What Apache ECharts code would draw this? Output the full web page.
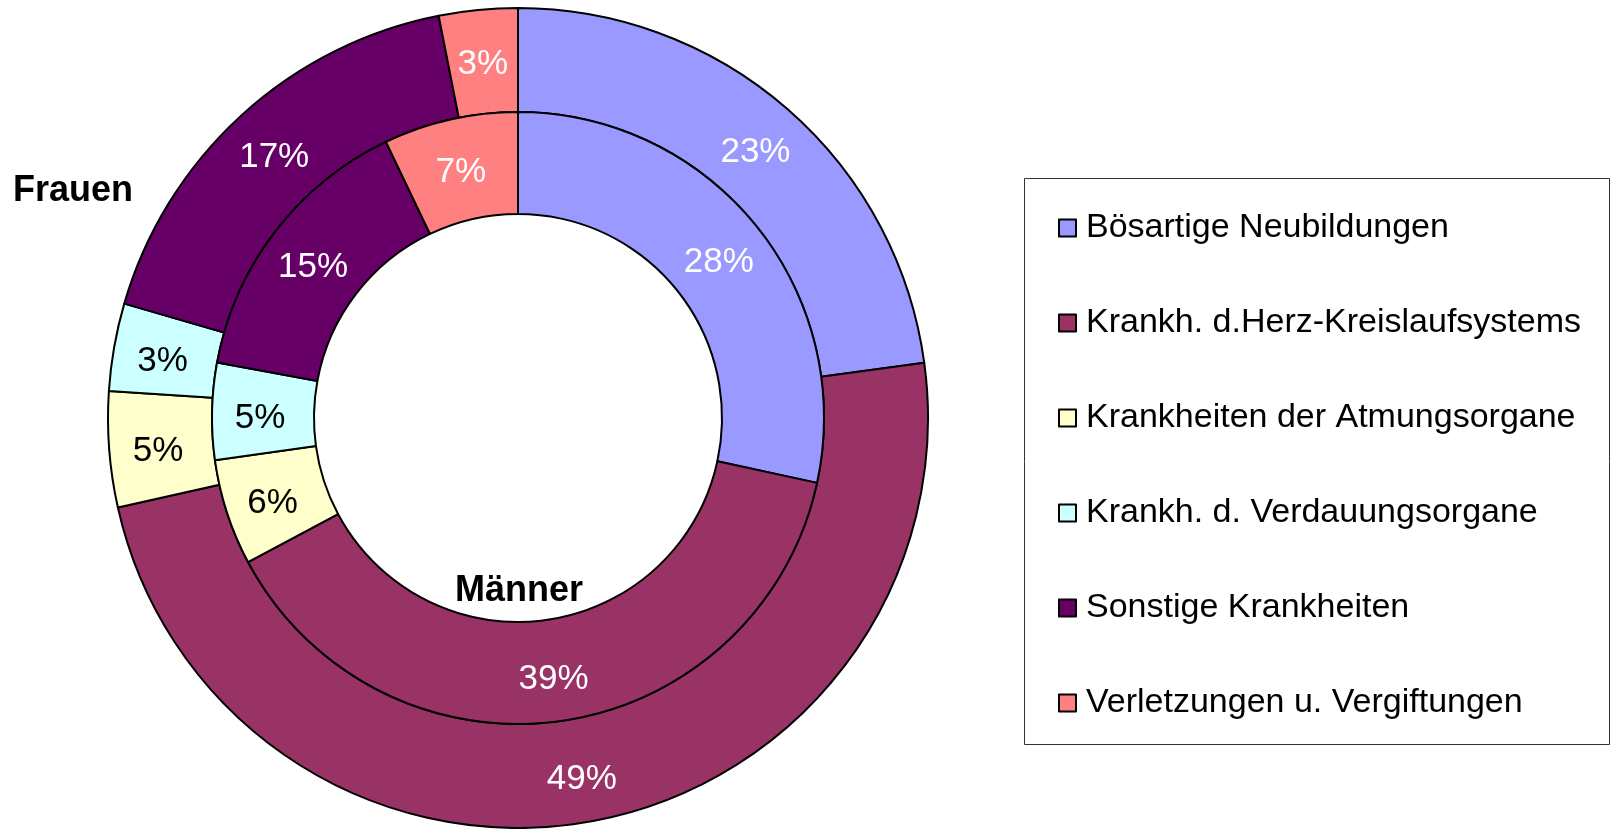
<!DOCTYPE html>
<html>
<head>
<meta charset="utf-8">
<script src="https://cdn.jsdelivr.net/npm/echarts@6/dist/echarts.min.js"></script>
<style>
  html, body { margin: 0; padding: 0; background: #fff; }
  #chart { width: 1610px; height: 829px; }
</style>
</head>
<body>
<div id="chart"></div>
<script>
// Todesursachen, Anteile in %
var categories = [
    "Bösartige Neubildungen",
    "Krankh. d.Herz-Kreislaufsystems",
    "Krankheiten der Atmungsorgane",
    "Krankh. d. Verdauungsorgane",
    "Sonstige Krankheiten",
    "Verletzungen u. Vergiftungen"
];
var frauen = [22.85, 48.65, 4.55, 3.45, 17.4, 3.1];  // äußerer Ring
var maenner = [28.4, 38.8, 5.6, 5.1, 15.0, 7.1];     // innerer Ring

var colors = ["#9999FF", "#993366", "#FFFFCC", "#CCFFFF", "#660066", "#FF8080"];
var labelColors = ["#fff", "#fff", "#000", "#000", "#fff", "#fff"];
var font = "Liberation Sans, Arial, sans-serif";

function buildData(values) {
    return categories.map(function (name, i) {
        return {
            name: name,
            value: values[i],
            label: { color: labelColors[i] }
        };
    });
}

function ring(name, values, radius) {
    return {
        name: name,
        type: "pie",
        center: [518, 418],
        radius: radius,
        startAngle: 90,
        clockwise: true,
        animation: false,
        silent: true,
        itemStyle: { borderColor: "#000", borderWidth: 2 },
        label: {
            show: true,
            position: "inside",
            fontFamily: font,
            fontSize: 35,
            // leere Zeile oben schiebt den Text etwas nach unten (wie im Original)
            formatter: function (p) { return "{s| }\n{v|" + Math.round(p.percent) + "%}"; },
            rich: {
                s: { fontSize: 8, lineHeight: 12 },
                v: { fontFamily: font, fontSize: 35, lineHeight: 36 }
            }
        },
        labelLine: { show: false },
        data: buildData(values)
    };
}

var chart = echarts.init(document.getElementById("chart"), null, { renderer: "canvas" });
chart.setOption({
    backgroundColor: "#fff",
    color: colors,
    legend: {
        orient: "vertical",
        left: 1053,
        top: 206,
        itemWidth: 17,
        itemHeight: 17,
        itemGap: 61,
        icon: "rect",
        itemStyle: { borderColor: "#000", borderWidth: 2 },
        textStyle: {
            fontFamily: font,
            fontSize: 34,
            lineHeight: 34,
            color: "#000",
            padding: [0, 0, 0, 5]
        },
        selectedMode: false,
        data: categories
    },
    graphic: [
        {
            type: "rect",
            shape: { x: 1024.5, y: 178.5, width: 585, height: 566 },
            style: { fill: "none", stroke: "#333", lineWidth: 1 },
            z: -1
        },
        {
            type: "text",
            left: 13,
            top: 173,
            style: { text: "Frauen", font: "bold 36px " + font, fill: "#000" }
        },
        {
            type: "text",
            left: 455,
            top: 573,
            style: { text: "Männer", font: "bold 36px " + font, fill: "#000" }
        }
    ],
    series: [
        ring("Frauen", frauen, [306, 410]),
        ring("Männer", maenner, [204, 306])
    ]
});
</script>
</body>
</html>
